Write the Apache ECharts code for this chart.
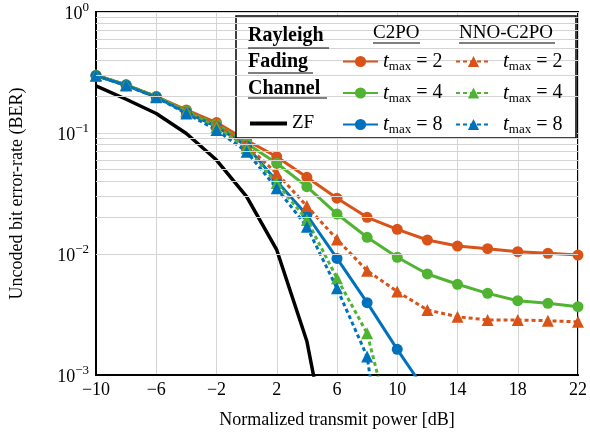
<!DOCTYPE html>
<html><head><meta charset="utf-8">
<script src="https://cdn.jsdelivr.net/npm/echarts@6/dist/echarts.min.js"></script>
<style>html,body{margin:0;padding:0;background:#fff}#c{width:590px;height:439px}</style>
</head><body><div id="c"></div>
<script>
const powerDB = [-10,-8,-6,-4,-2,0,2,4,6,8,10,12,14,16,18,20,22];
const xTicks = [-10,-6,-2,2,6,10,14,18,22];
const yTickExponents = [0,-1,-2,-3];
const minorGrid = [0.2,0.3,0.4,0.5,0.6,0.7,0.8,0.9,0.02,0.03,0.04,0.05,0.06,0.07,0.08,0.09,0.002,0.003,0.004,0.005,0.006,0.007,0.008,0.009];

const zf      = [0.245,0.19,0.145,0.099,0.0598,0.0298,0.0108,0.0019,0.0001];
const c2po_t2 = [0.30,0.25,0.20,0.155,0.122,0.087,0.0637,0.043,0.0289,0.0201,0.016,0.01305,0.01164,0.01106,0.01046,0.01013,0.0098];
const c2po_t4 = [0.30,0.25,0.20,0.152,0.118,0.082,0.0562,0.036,0.0214,0.01374,0.0094,0.00684,0.00562,0.00473,0.00411,0.00391,0.00367];
const c2po_t8 = [0.297,0.248,0.198,0.148,0.113,0.078,0.040,0.021,0.0092,0.00396,0.00163,0.0007];
const nno_t2  = [0.30,0.25,0.20,0.153,0.118,0.079,0.0464,0.0249,0.0132,0.00728,0.00489,0.00345,0.00303,0.00285,0.00285,0.00281,0.00275];
const nno_t4  = [0.30,0.25,0.20,0.150,0.112,0.075,0.0386,0.0191,0.0063,0.00221,0.00023];
const nno_t8  = [0.297,0.247,0.197,0.145,0.106,0.070,0.0349,0.0168,0.0052,0.00142,0.00003];

const ORANGE='#D95319', GREEN='#50B432', BLUE='#0072BD';
const FONT='"Liberation Serif", "DejaVu Serif", serif';
const pts = arr => arr.map((v,i)=>[powerDB[i], v]);

function solid(name, arr, color){
  return {name, type:'line', data:pts(arr), symbol:'circle', symbolSize:11,
    lineStyle:{color, width:3}, itemStyle:{color}, z:3};
}
function dashed(name, arr, color){
  return {name, type:'line', data:pts(arr), symbol:'triangle', symbolSize:12,
    lineStyle:{color, width:3, type:[4,3]}, itemStyle:{color}, z:4};
}
const labelMap = {'C2PO t=2':'2','C2PO t=4':'4','C2PO t=8':'8','NNO t=2':'2','NNO t=4':'4','NNO t=8':'8'};
const rich = {
  t:{fontFamily:FONT, fontStyle:'italic', fontSize:21, lineHeight:24, verticalAlign:'middle', color:'#000'},
  s:{fontFamily:FONT, fontSize:13, lineHeight:24, verticalAlign:'bottom', color:'#000'},
  e:{fontFamily:FONT, fontSize:20, lineHeight:24, verticalAlign:'middle', color:'#000'},
  sp:{width:7}
};
const chart = echarts.init(document.getElementById('c'), null, {renderer:'canvas'});
const option = {
  animation:false,
  grid:{left:93, right:9, top:12, bottom:64, show:true, borderColor:'#000', borderWidth:2, backgroundColor:'transparent'},
  xAxis:{type:'value', min:-10, max:22, interval:4,
    name:'Normalized transmit power [dB]', nameLocation:'middle', nameGap:36,
    nameTextStyle:{fontFamily:FONT, fontSize:18, color:'#000'},
    axisLine:{onZero:false, lineStyle:{color:'#000', width:2}}, axisTick:{show:false},
    axisLabel:{fontFamily:FONT, fontSize:18, color:'#000', margin:6,
      formatter:v=> xTicks.includes(v) ? String(v).replace('-','\u2212') : ''},
    splitLine:{show:true, lineStyle:{color:'#d4d4d4', width:1}}},
  yAxis:{type:'log', logBase:10, min:0.001, max:1,
    name:'Uncoded bit error-rate (BER)', nameLocation:'middle', nameGap:70,
    nameTextStyle:{fontFamily:FONT, fontSize:18, color:'#000'},
    axisLine:{show:true, onZero:false, lineStyle:{color:'#000', width:2}}, axisTick:{show:false},
    axisLabel:{margin:7, color:'#000',
      formatter:v=>{const e=Math.round(Math.log10(v)); return yTickExponents.includes(e) ? '{b|10}{p|'+String(e).replace('-','\u2212')+'}' : '';},
      rich:{b:{fontFamily:FONT, fontSize:18, lineHeight:22, verticalAlign:'bottom', color:'#000'},
            p:{fontFamily:FONT, fontSize:13, lineHeight:22, verticalAlign:'top', color:'#000'}}},
    splitLine:{show:true, lineStyle:{color:'#d4d4d4', width:1}}},
  legend:[
    {data:['C2PO t=2','C2PO t=4','C2PO t=8'], orient:'vertical', left:337, top:46, itemWidth:35, itemHeight:14, itemGap:9, z:10,
      formatter:n=>'{t|t}{s|max}{e| = '+labelMap[n]+'}', textStyle:{rich}, selectedMode:false},
    {data:['NNO t=2','NNO t=4','NNO t=8'], orient:'vertical', left:450, top:46, itemWidth:35, itemHeight:14, itemGap:9, z:10,
      formatter:n=>'{sp|}{t|t}{s|max}{e| = '+labelMap[n]+'}', textStyle:{rich}, selectedMode:false},
    {data:[{name:'ZF', icon:'rect'}], orient:'vertical', left:245, top:109, itemWidth:37, itemHeight:4, z:10,
      textStyle:{fontFamily:FONT, fontSize:19, color:'#000'}, selectedMode:false}
  ],
  graphic:[
    {type:'rect', shape:{x:236, y:16, width:340, height:122}, style:{fill:'#fff', stroke:'#000', lineWidth:1.5}, z:5},
    {type:'text', left:248, top:26, style:{text:'Rayleigh', font:'bold 20px '+FONT, fill:'#000'}, z:11},
    {type:'text', left:248, top:52, style:{text:'Fading', font:'bold 20px '+FONT, fill:'#000'}, z:11},
    {type:'text', left:248, top:79, style:{text:'Channel', font:'bold 20px '+FONT, fill:'#000'}, z:11},
    {type:'line', shape:{x1:248, y1:48, x2:329, y2:48}, style:{stroke:'#000', lineWidth:1}, z:11},
    {type:'line', shape:{x1:248, y1:73, x2:313, y2:73}, style:{stroke:'#000', lineWidth:1}, z:11},
    {type:'line', shape:{x1:248, y1:98, x2:327, y2:98}, style:{stroke:'#000', lineWidth:1}, z:11},
    {type:'text', left:373, top:24, style:{text:'C2PO', font:'19px '+FONT, fill:'#000'}, z:11},
    {type:'line', shape:{x1:373, y1:43, x2:420, y2:43}, style:{stroke:'#000', lineWidth:1}, z:11},
    {type:'text', left:459, top:24, style:{text:'NNO-C2PO', font:'19px '+FONT, fill:'#000'}, z:11},
    {type:'line', shape:{x1:459, y1:43, x2:555, y2:43}, style:{stroke:'#000', lineWidth:1}, z:11}
  ],
  series:[
    {name:'grid', type:'line', data:[], z:1, silent:true,
      markLine:{silent:true, symbol:'none', label:{show:false}, animation:false,
        lineStyle:{color:'#d4d4d4', width:1, type:'solid'},
        data:minorGrid.map(v=>({yAxis:v}))}},
    {name:'ZF', type:'line', data:pts(zf), symbol:'none', lineStyle:{color:'#000', width:3.5}, itemStyle:{color:'#000'}, z:3},
    solid('C2PO t=2', c2po_t2, ORANGE),
    solid('C2PO t=4', c2po_t4, GREEN),
    solid('C2PO t=8', c2po_t8, BLUE),
    dashed('NNO t=2', nno_t2, ORANGE),
    dashed('NNO t=4', nno_t4, GREEN),
    dashed('NNO t=8', nno_t8, BLUE)
  ]
};
chart.setOption(option);
</script></body></html>
